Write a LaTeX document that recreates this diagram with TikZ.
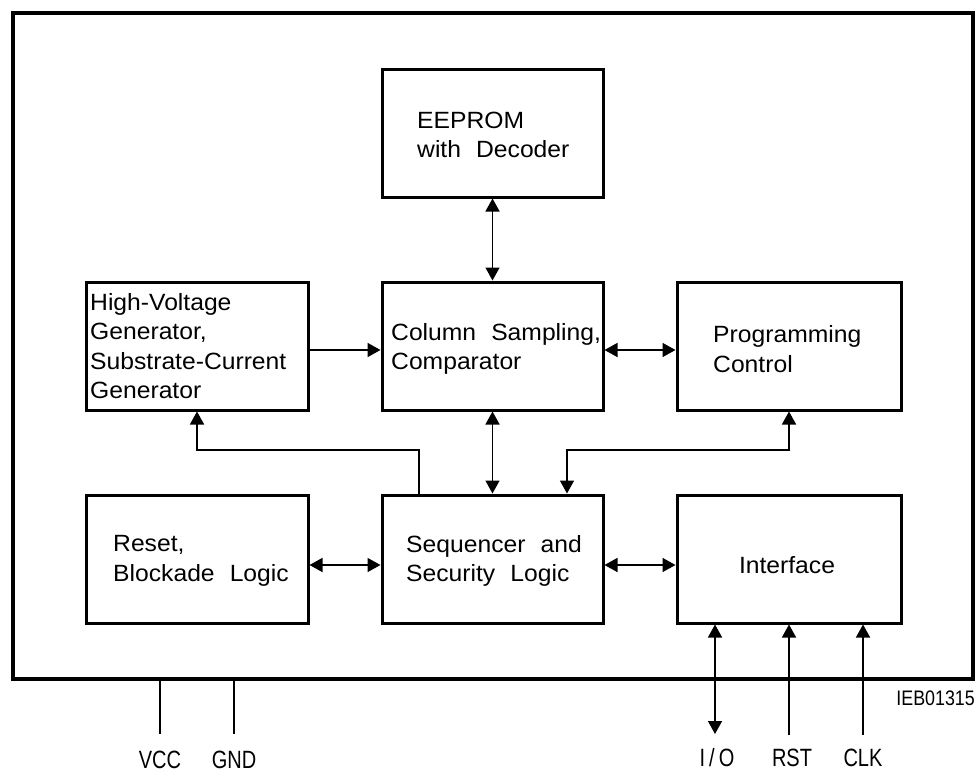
\documentclass[tikz,border=0pt]{standalone}
\usepackage{fontspec}
\setmainfont[FakeStretch=1.05,WordSpace=2.2]{Liberation Sans}
\newfontfamily\narrowfont[FakeStretch=0.8]{Liberation Sans}
\newfontfamily\codefont[FakeStretch=0.85]{Liberation Sans}
\usetikzlibrary{arrows.meta}
\begin{document}
\begin{tikzpicture}[x=1pt,y=-1pt,
  blk/.style={draw, line width=3pt, inner sep=0pt, minimum height=128pt},
  lbl/.style={font=\fontsize{23.5}{29.5}\selectfont, align=left, inner sep=0pt, anchor=west},
  pinlbl/.style={font=\narrowfont\fontsize{25}{28}\selectfont, inner sep=0pt},
  codelbl/.style={font=\codefont\fontsize{21}{25}\selectfont, inner sep=0pt, anchor=east},
  con/.style={line width=1.5pt},
  >={Triangle[length=13pt,width=14pt]}]
\useasboundingbox (0,0) rectangle (977,776);
% outer chip outline
\node[draw, line width=4pt, inner sep=0pt, minimum width=960pt, minimum height=666pt] (outer) at (493,346) {};
% blocks
\node[blk, minimum width=221pt, minimum height=127pt] (eeprom) at (492.5,133.5) {};
\node[blk, minimum width=222pt] (hv) at (197,346) {};
\node[blk, minimum width=221pt] (col) at (492.5,346) {};
\node[blk, minimum width=224pt] (prog) at (789,346) {};
\node[blk, minimum width=222pt] (reset) at (197,559) {};
\node[blk, minimum width=221pt] (seq) at (492.5,559) {};
\node[blk, minimum width=224pt] (iface) at (789,559) {};
% texts
\node[lbl] (eepromT) at (417,135) {EEPROM\\with Decoder};
\node[lbl] (hvT) at (90,346) {High-Voltage\\Generator,\\Substrate-Current\\Generator};
\node[lbl] (colT) at (391,349) {Column Sampling,\\Comparator};
\node[lbl] (progT) at (713,349) {Programming\\Control};
\node[lbl] (resetT) at (113,561) {Reset,\\Blockade Logic};
\node[lbl] (seqT) at (406,561) {Sequencer and\\Security Logic};
\node[lbl, anchor=center] (ifaceT) at (787,565) {Interface};
% connectors
\draw[con,<->] (eeprom.south) -- (col.north);
\draw[con,->] ([yshift=-4pt]hv.east) -- ([yshift=-4pt]col.west);
\draw[con,<->] ([yshift=-4pt]col.east) -- ([yshift=-4pt]prog.west);
\draw[con,<->] (col.south) -- (seq.north);
\draw[con,<->] ([yshift=-6pt]reset.east) -- ([yshift=-6pt]seq.west);
\draw[con,<->] ([yshift=-6pt]seq.east) -- ([yshift=-6pt]iface.west);
\coordinate (a1) at (419,450);
\coordinate (a2) at (567,450);
\draw[con,->] (seq.north -| a1) -- (a1) -| (hv.south);
\draw[con,<->] (prog.south) |- (a2) -- (seq.north -| a2);
% pins
\coordinate (vccE) at (160,734);
\coordinate (gndE) at (234,734);
\coordinate (ioE) at (715,734);
\coordinate (rstE) at (789,735);
\coordinate (clkE) at (863,735);
\draw[con] (outer.south -| vccE) -- (vccE);
\draw[con] (outer.south -| gndE) -- (gndE);
\draw[con,<->] (iface.south -| ioE) -- (ioE);
\draw[con,->] (rstE) -- (iface.south -| rstE);
\draw[con,->] (clkE) -- (iface.south -| clkE);
\node[pinlbl] (vccL) at (160,760) {VCC};
\node[pinlbl] (gndL) at (234,760) {GND};
\node[pinlbl] (ioL) at (717,758) {I\kern4pt/\kern4pt O};
\node[pinlbl] (rstL) at (792,758) {RST};
\node[pinlbl] (clkL) at (863,758) {CLK};
\node[codelbl] (code) at (975,698) {IEB01315};
\end{tikzpicture}
\end{document}
